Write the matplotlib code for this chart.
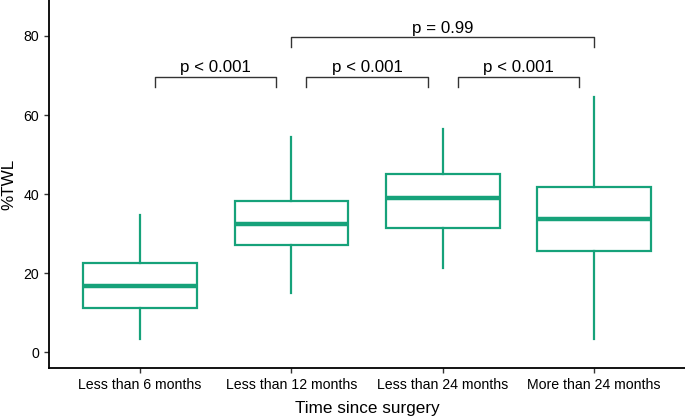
import matplotlib
matplotlib.use("Agg")
import matplotlib.pyplot as plt

plt.rcParams['font.family'] = ['Liberation Sans', 'DejaVu Sans']

# box summary values
groups = ['Less than 6 months', 'Less than 12 months', 'Less than 24 months', 'More than 24 months']
whislo = [3.3, 14.9, 21.3, 3.3]
q1 = [11.1, 27.1, 31.4, 25.6]
med = [16.8, 32.5, 39.0, 33.7]
q3 = [22.6, 38.3, 45.2, 41.8]
whishi = [34.7, 54.5, 56.5, 64.6]

# pairwise comparisons: (group a, group b, label, bracket height)
comparisons = [(1, 2, 'p < 0.001', 69.6),
               (2, 3, 'p < 0.001', 69.6),
               (3, 4, 'p < 0.001', 69.6),
               (2, 4, 'p = 0.99', 79.7)]

green = '#16A27A'

fig = plt.figure(figsize=(6.85, 4.19), dpi=100)
ax = fig.add_axes([49 / 685, 51 / 419, 1 - 49 / 685, 1 - 51 / 419])

stats = []
for i in range(len(groups)):
    stats.append({'label': groups[i], 'whislo': whislo[i], 'q1': q1[i], 'med': med[i],
                  'q3': q3[i], 'whishi': whishi[i], 'fliers': []})

ax.bxp(stats, positions=range(1, 5), widths=0.75, showcaps=False, patch_artist=True,
       boxprops=dict(facecolor='white', edgecolor=green, linewidth=1.6),
       whiskerprops=dict(color=green, linewidth=1.6),
       medianprops=dict(color=green, linewidth=3.2, solid_capstyle='butt'))

# significance brackets
for a, b, lab, h in comparisons:
    xa, xb = a + 0.1, b - 0.1
    if b - a > 1:
        xa, xb = a, b
    ax.plot([xa, xa, xb, xb], [h - 2.5, h, h, h - 2.5], color='#333333', linewidth=1.0)
    ax.text((xa + xb) / 2, h + 0.4, lab, ha='center', va='bottom', fontsize=12.2, color='black')

ax.set_xlim(0.4, 4.6)
ax.set_ylim(-4.0, 89.1)
ax.set_yticks([0, 20, 40, 60, 80])
ax.set_xticks(range(1, 5))
ax.set_xticklabels(groups)
ax.tick_params(axis='both', labelsize=10.2, colors='#333333', length=3.5, width=1.0, labelcolor='black')

for s in ['top', 'right']:
    ax.spines[s].set_visible(False)
for s in ['left', 'bottom']:
    ax.spines[s].set_linewidth(1.3)
    ax.spines[s].set_color('black')

ax.set_xlabel('Time since surgery', fontsize=12.3, labelpad=7)
ax.set_ylabel('%TWL', fontsize=12.3, labelpad=5)

fig.savefig('out.png', dpi=100)
